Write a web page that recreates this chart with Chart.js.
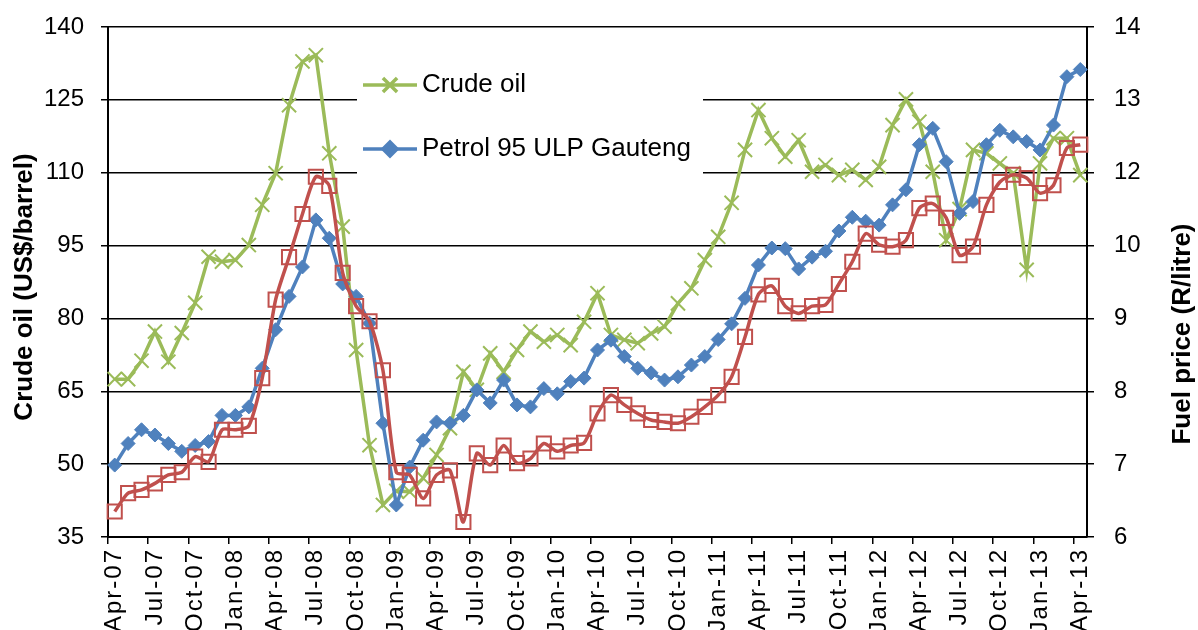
<!DOCTYPE html>
<html><head><meta charset="utf-8">
<script src="https://cdn.jsdelivr.net/npm/chart.js@4.4.1/dist/chart.umd.min.js"></script>
<style>html,body{margin:0;padding:0;background:#fff;overflow:hidden}canvas{display:block}</style>
</head><body>
<canvas id="c" width="1198" height="630"></canvas>
<script>
const months = ['Apr-07','May-07','Jun-07','Jul-07','Aug-07','Sep-07','Oct-07','Nov-07','Dec-07',
'Jan-08','Feb-08','Mar-08','Apr-08','May-08','Jun-08','Jul-08','Aug-08','Sep-08','Oct-08','Nov-08','Dec-08',
'Jan-09','Feb-09','Mar-09','Apr-09','May-09','Jun-09','Jul-09','Aug-09','Sep-09','Oct-09','Nov-09','Dec-09',
'Jan-10','Feb-10','Mar-10','Apr-10','May-10','Jun-10','Jul-10','Aug-10','Sep-10','Oct-10','Nov-10','Dec-10',
'Jan-11','Feb-11','Mar-11','Apr-11','May-11','Jun-11','Jul-11','Aug-11','Sep-11','Oct-11','Nov-11','Dec-11',
'Jan-12','Feb-12','Mar-12','Apr-12','May-12','Jun-12','Jul-12','Aug-12','Sep-12','Oct-12','Nov-12','Dec-12',
'Jan-13','Feb-13','Mar-13','Apr-13'];

const crudeOil = [67.5,67.5,71.3,77.3,71.1,77.0,83.2,92.7,91.7,
92.0,95.1,103.4,109.9,123.9,132.9,134.2,114.0,98.9,73.5,53.9,41.6,
44.5,44.3,47.1,51.9,57.4,69.0,65.3,72.8,69.0,73.5,77.3,75.2,
76.6,74.5,79.3,85.2,76.6,75.6,74.9,76.9,78.3,83.1,86.2,92.0,
96.8,103.8,114.7,122.9,117.1,113.3,116.7,110.2,111.6,109.5,110.6,108.5,
111.2,119.8,125.1,120.5,110.2,96.1,102.5,114.7,114.0,111.9,109.9,90.0,
111.9,117.1,117.1,109.5];

const petrolPrice = [7.10,7.43,7.64,7.56,7.43,7.31,7.40,7.46,7.86,
7.86,7.99,8.58,9.17,9.68,10.13,10.85,10.57,9.87,9.68,9.27,7.74,
6.49,7.07,7.48,7.76,7.74,7.86,8.25,8.05,8.40,8.02,7.99,8.27,
8.19,8.38,8.43,8.86,9.01,8.76,8.58,8.51,8.40,8.45,8.63,8.76,
9.02,9.26,9.65,10.16,10.42,10.41,10.10,10.28,10.37,10.68,10.89,10.83,
10.77,11.08,11.31,12.00,12.25,11.74,10.95,11.13,12.00,12.22,12.12,12.05,
11.92,12.30,13.04,13.15];

const dieselPrice = [6.39,6.67,6.72,6.82,6.95,6.99,7.23,7.15,7.64,
7.64,7.70,8.43,9.63,10.28,10.94,11.51,11.37,10.04,9.53,9.30,8.55,
6.99,6.95,6.59,6.95,7.02,6.23,7.28,7.10,7.40,7.13,7.20,7.43,
7.31,7.40,7.44,7.89,8.17,8.02,7.89,7.79,7.76,7.74,7.84,7.99,
8.17,8.45,9.06,9.71,9.84,9.53,9.42,9.53,9.55,9.87,10.21,10.64,
10.47,10.44,10.54,11.03,11.10,10.88,10.31,10.44,11.08,11.43,11.54,11.49,
11.26,11.38,11.95,12.00];

const crudeTickLabels = [35,50,65,80,95,110,125,140];
const fuelAxisMin = 6, fuelAxisMax = 13.8;
const fuelTickLabels = ['6','7','8','9','10','12','13','14'];

const FONT = "'Liberation Sans', Arial, sans-serif";
const GREEN = '#9BBB59', BLUE = '#4F81BD', RED = '#C0504D';

const legendItems = [
  {label:'Crude oil', color:GREEN, style:'crossRot', radius:10, bw:2},
  {label:'Petrol 95 ULP Gauteng', color:BLUE, style:'rectRot', radius:7, bw:1}
];

const decor = {
  id:'decor',
  beforeDatasetsDraw(chart){
    const c = chart.ctx;
    c.save();
    c.fillStyle = '#fff';
    c.fillRect(357, 58, 346, 132);
    legendItems.forEach((it,k)=>{
      const y = 85 + k*64;
      c.strokeStyle = it.color; c.lineWidth = 3.5; c.lineCap='butt';
      c.beginPath(); c.moveTo(363,y); c.lineTo(417,y); c.stroke();
      c.fillStyle = it.color; c.strokeStyle = it.color;
      Chart.helpers.drawPoint(c, {pointStyle:it.style, radius:it.radius, borderWidth:it.bw, rotation:0}, 390, y);
      c.fillStyle = '#000';
      c.font = '26px ' + FONT;
      c.textBaseline = 'middle'; c.textAlign = 'left';
      c.fillText(it.label, 422, y);
    });
    c.restore();
  },
  afterDraw(chart){
    const c = chart.ctx;
    const xs = chart.scales.x;
    c.save();
    c.fillStyle = '#000';
    c.font = '24px ' + FONT;
    try { c.letterSpacing = '2px'; } catch(e) {}
    c.textAlign = 'right'; c.textBaseline = 'middle';
    months.forEach((m,i)=>{
      if (i % 3 !== 0) return;
      const x = xs.getPixelForTick(i);
      c.save(); c.translate(x, xs.top + 11); c.rotate(-Math.PI/2);
      c.fillText(m, 0, 0);
      c.restore();
    });
    c.restore();
    c.save();
    c.fillStyle = '#000';
    c.font = 'bold 26px ' + FONT;
    c.textAlign = 'center'; c.textBaseline = 'middle';
    c.translate(25, 287); c.rotate(-Math.PI/2);
    c.fillText('Crude oil (US$/barrel)', 0, 0);
    c.restore();
    c.save();
    c.fillStyle = '#000';
    c.font = 'bold 26px ' + FONT;
    c.textAlign = 'center'; c.textBaseline = 'middle';
    c.translate(1183, 334); c.rotate(-Math.PI/2);
    c.fillText('Fuel price (R/litre)', 0, 0);
    c.restore();
  }
};

new Chart(document.getElementById('c'), {
  type:'line',
  data:{
    labels: months,
    datasets:[
      {label:'Diesel', data:dieselPrice, yAxisID:'y2', order:0,
       borderColor:RED, borderWidth:3.5, tension:0.25,
       pointStyle:'rect', pointRadius:10, pointBorderWidth:2,
       pointBorderColor:RED, pointBackgroundColor:'rgba(0,0,0,0)'},
      {label:'Petrol 95 ULP Gauteng', data:petrolPrice, yAxisID:'y2', order:1,
       borderColor:BLUE, backgroundColor:BLUE, borderWidth:3.5, tension:0,
       pointStyle:'rectRot', pointRadius:7, pointBorderWidth:1,
       pointBorderColor:BLUE, pointBackgroundColor:BLUE},
      {label:'Crude oil', data:crudeOil, yAxisID:'y', order:2,
       borderColor:GREEN, backgroundColor:GREEN, borderWidth:3.5, tension:0,
       pointStyle:'crossRot', pointRadius:10, pointBorderWidth:2,
       pointBorderColor:GREEN}
    ]
  },
  options:{
    responsive:false, animation:false, devicePixelRatio:1,
    layout:{padding:{top:27,left:0,right:0,bottom:0}},
    plugins:{legend:{display:false}, tooltip:{enabled:false}},
    scales:{
      x:{
        offset:true,
        grid:{offset:true, drawOnChartArea:false, drawTicks:true, tickLength:7, lineWidth:1.5,
              color:(ctx)=> (ctx.index % 3 === 0 ? '#000' : 'rgba(0,0,0,0)')},
        border:{color:'#000', width:2},
        ticks:{display:false, autoSkip:false},
        afterFit:(s)=>{ s.height = 93; s.paddingLeft = 0; s.paddingRight = 0; }
      },
      y:{
        position:'left', min:35, max:140,
        afterBuildTicks:(s)=>{ s.ticks = crudeTickLabels.map(v=>({value:v})); },
        grid:{color:'#000', lineWidth:1.5, tickLength:7},
        border:{color:'#000', width:2},
        ticks:{padding:17, color:'#000', font:{family:FONT, size:24}},
        afterFit:(s)=>{ s.width = 108; s.paddingTop = 0; s.paddingBottom = 0; }
      },
      y2:{
        position:'right', min:fuelAxisMin, max:fuelAxisMax,
        afterBuildTicks:(s)=>{ s.ticks = fuelTickLabels.map((l,k)=>({value: fuelAxisMin + k*(fuelAxisMax-fuelAxisMin)/(fuelTickLabels.length-1)})); },
        grid:{drawOnChartArea:false, color:'#000', lineWidth:1.5, tickLength:7},
        border:{color:'#000', width:2},
        ticks:{padding:20, color:'#000', font:{family:FONT, size:24},
               callback:(v,i)=> fuelTickLabels[i]},
        afterFit:(s)=>{ s.width = 111; s.paddingTop = 0; s.paddingBottom = 0; }
      }
    }
  },
  plugins:[decor]
});
</script>
</body></html>
